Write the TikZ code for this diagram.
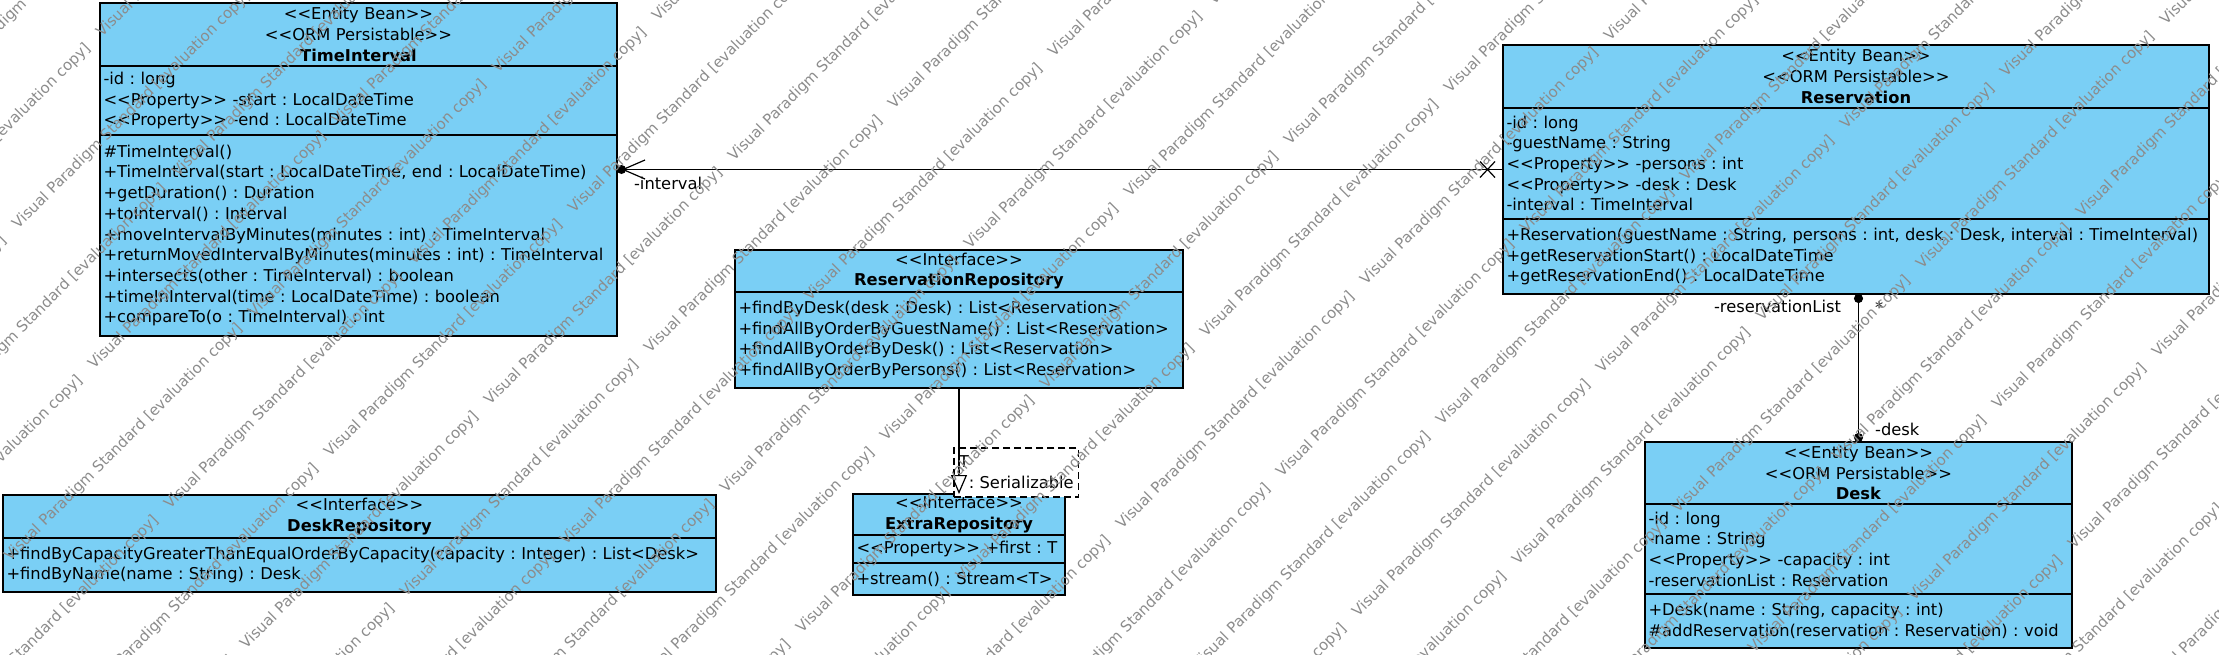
\documentclass[tikz,border=0pt]{standalone}
\usepackage{fontspec}
\setmainfont{DejaVu Sans}[Ligatures=TeXOff]
\usepackage{xcolor}
\usepackage{tikz}
\usetikzlibrary{positioning,arrows.meta,fit,calc}
\definecolor{klasseblaa}{HTML}{7ACFF5}
\definecolor{merkegraa}{HTML}{8C8C8C}
\frenchspacing
\hyphenpenalty=10000
\exhyphenpenalty=10000

\begin{document}
\begin{tikzpicture}[x=1pt, y=-1pt, >=Stealth, font=\fontsize{16.3}{20.7}\selectfont]
    \tikzset{
        classhead/.style={
            draw=black,
            line width=1.4pt,
            fill=klasseblaa,
            align=center,
            inner xsep=3.5pt,
            inner ysep=1pt,
            outer sep=0pt,
            text width=#1pt
        },
        classpart/.style={
            classhead=#1,
            align=left
        },
        classbox/.style={
            inner sep=0pt,
            outer sep=0pt
        },
        tparam/.style={
            draw=black,
            dash pattern=on 7pt off 4pt,
            line width=1.2pt,
            fill=white,
            align=left,
            inner xsep=5pt,
            inner ysep=1pt,
            outer sep=0pt
        },
        assoc/.style={
            draw=black,
            line width=1.2pt
        },
        lab/.style={
            inner sep=1pt
        },
        evalmark/.style={
            font=\fontsize{15}{18}\selectfont,
            text=merkegraa,
            inner sep=0pt
        }
    }
    \useasboundingbox (0,0) rectangle (2219,654);

    % Klasser
    \node[classhead=510, anchor=north west, minimum height=63pt] (tiH) at (100,3)
        {<<Entity Bean>>\\<<ORM Persistable>>\\\textbf{TimeInterval}};
    \node[classpart=510, below=0pt of tiH, minimum height=69pt] (tiA)
        {-id : long\\<<Property>> -start : LocalDateTime\\<<Property>> -end : LocalDateTime};
    \node[classpart=510, below=0pt of tiA, minimum height=201pt] (tiO)
        {\#TimeInterval()\\+TimeInterval(start : LocalDateTime, end : LocalDateTime)\\+getDuration() : Duration\\+toInterval() : Interval\\+moveIntervalByMinutes(minutes : int) : TimeInterval\\+returnMovedIntervalByMinutes(minutes : int) : TimeInterval\\+intersects(other : TimeInterval) : boolean\\+timeInInterval(time : LocalDateTime) : boolean\\+compareTo(o : TimeInterval) : int};
    \node[classbox, fit=(tiH)(tiO)] (ti) {};

    \node[classhead=699, anchor=north west, minimum height=63pt] (resH) at (1503,45)
        {<<Entity Bean>>\\<<ORM Persistable>>\\\textbf{Reservation}};
    \node[classpart=699, below=0pt of resH, minimum height=111pt] (resA)
        {-id : long\\-guestName : String\\<<Property>> -persons : int\\<<Property>> -desk : Desk\\-interval : TimeInterval};
    \node[classpart=699, below=0pt of resA, minimum height=75pt] (resO)
        {+Reservation(guestName : String, persons : int, desk : Desk, interval : TimeInterval)\\+getReservationStart() : LocalDateTime\\+getReservationEnd() : LocalDateTime};
    \node[classbox, fit=(resH)(resO)] (res) {};

    \node[classhead=441, anchor=north west, minimum height=42pt] (rrH) at (735,250)
        {<<Interface>>\\\textbf{ReservationRepository}};
    \node[classpart=441, below=0pt of rrH, minimum height=96pt] (rrO)
        {+findByDesk(desk : Desk) : List<Reservation>\\+findAllByOrderByGuestName() : List<Reservation>\\+findAllByOrderByDesk() : List<Reservation>\\+findAllByOrderByPersons() : List<Reservation>};
    \node[classbox, fit=(rrH)(rrO)] (rr) {};

    \node[classhead=205, anchor=north west, minimum height=41pt] (xrH) at (853,494)
        {<<Interface>>\\\textbf{ExtraRepository}};
    \node[classpart=205, below=0pt of xrH, minimum height=28pt] (xrA)
        {<<Property>> +first : T};
    \node[classpart=205, below=0pt of xrA, minimum height=32pt] (xrO)
        {+stream() : Stream<T>};
    \node[classbox, fit=(xrH)(xrO)] (xr) {};

    \node[classhead=706, anchor=north west, minimum height=43pt] (drH) at (3,495)
        {<<Interface>>\\\textbf{DeskRepository}};
    \node[classpart=706, below=0pt of drH, minimum height=54pt] (drO)
        {+findByCapacityGreaterThanEqualOrderByCapacity(capacity : Integer) : List<Desk>\\+findByName(name : String) : Desk};

    \node[classhead=420, anchor=north west, minimum height=62pt] (deskH) at (1645,442)
        {<<Entity Bean>>\\<<ORM Persistable>>\\\textbf{Desk}};
    \node[classpart=420, below=0pt of deskH, minimum height=90pt] (deskA)
        {-id : long\\-name : String\\<<Property>> -capacity : int\\-reservationList : Reservation};
    \node[classpart=420, below=0pt of deskA, minimum height=54pt] (deskO)
        {+Desk(name : String, capacity : int)\\\#addReservation(reservation : Reservation) : void};
    \node[classbox, fit=(deskH)(deskO)] (desk) {};

    % Assosiasjoner
    \coordinate (tidot) at ($(res.west -| ti.east)+(4.5,0)$);
    \coordinate (resx) at ($(res.west)+(-15.5,0)$);
    \draw[assoc, -{Straight Barb[length=22pt, width=19pt]}] (res.west) -- (tidot)
        node[lab, at end, anchor=west, xshift=11pt, yshift=-14pt] {-interval};
    \fill (tidot) circle (4.5pt);
    \draw[assoc] (resx) +(-7.5,-8) -- +(7.5,8) +(-7.5,8) -- +(7.5,-8);

    \draw[assoc, {Circle[length=9pt]}-{Circle[length=9pt]}] (desk.north |- res.south) -- (desk.north)
        node[lab, at start, anchor=east, xshift=-16pt, yshift=-12pt] {-reservationList}
        node[lab, at start, anchor=west, xshift=15pt, yshift=-13.5pt] {*}
        node[lab, at end, anchor=west, xshift=15pt, yshift=13pt] {-desk};

    % Generalisering med malparameter
    \node[tparam, anchor=north west, minimum height=49pt] (tpl) at (954,448)
        {T\\\hphantom{T}: Serializable};
    \draw[assoc, -{Triangle[open, length=19pt, width=16pt]}] (rr.south) -- (xr.north);

    % Vannmerke
    \begin{scope}
        \clip (0,0) rectangle (2219,654);
        \foreach \i in {-20,...,11} {
            \foreach \j in {-9,...,12} {
                \pgfmathsetmacro\wx{1282+160*\i+244*\j}
                \pgfmathsetmacro\wy{478-52*\i-244*\j}
                \node[evalmark, anchor=base west, rotate=45] at (\wx,\wy)
                    {Visual Paradigm Standard [evaluation copy]};
            }
        }
    \end{scope}
\end{tikzpicture}
\end{document}
